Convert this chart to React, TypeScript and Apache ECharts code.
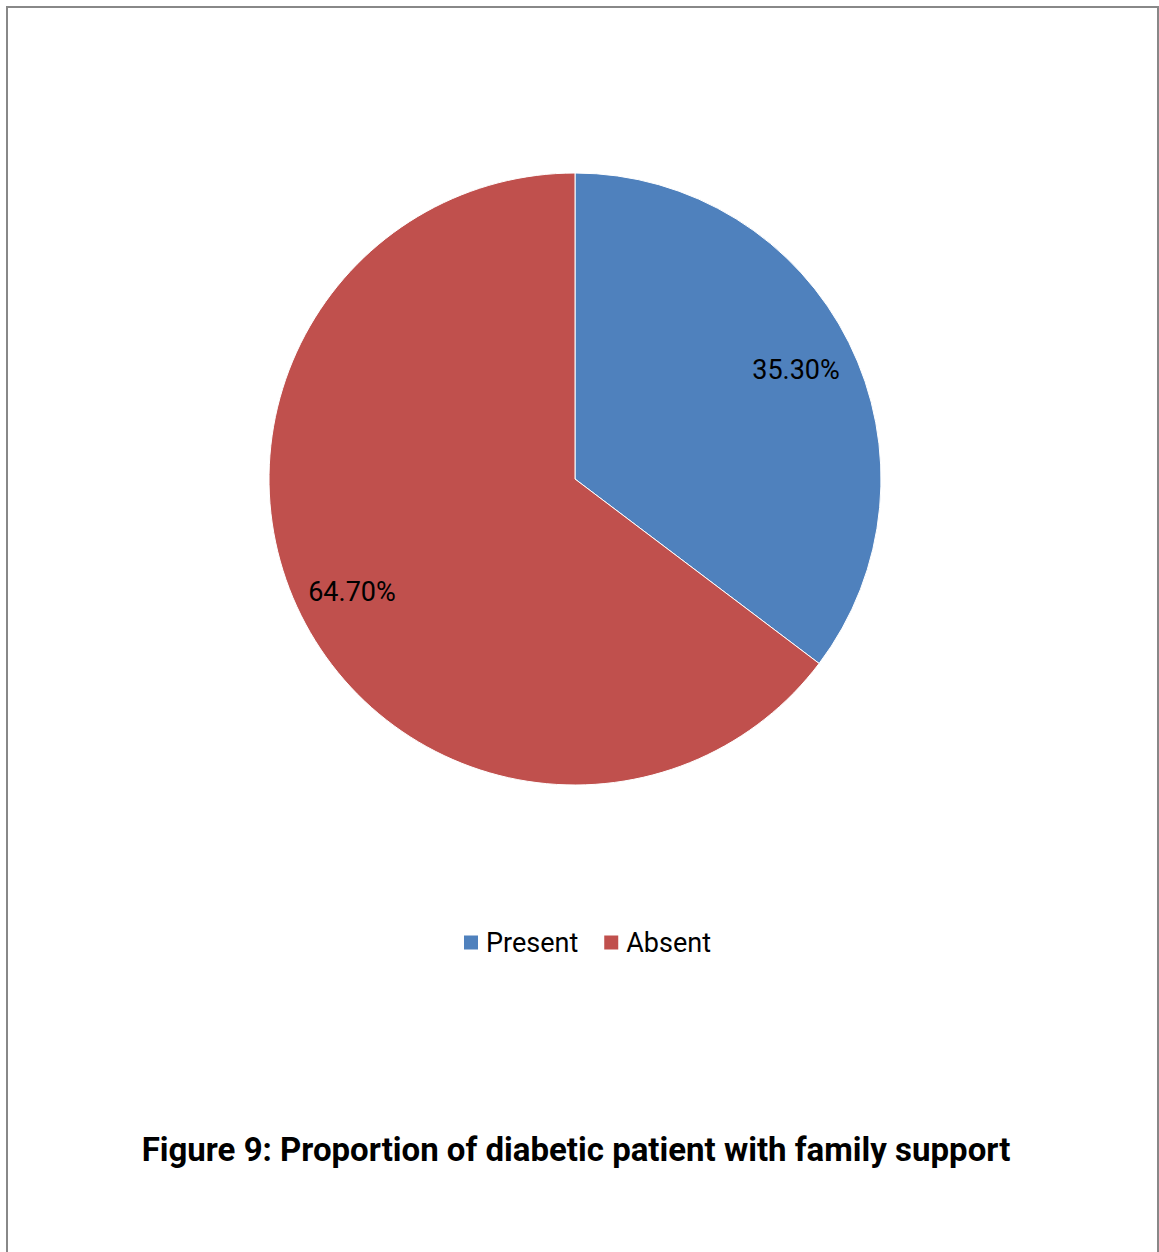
import React, { useEffect, useRef } from "react";
import * as echarts from "echarts";

const categories = ["Present", "Absent"];
const values = [35.3, 64.7];
const labels = ["35.30%", "64.70%"];
const colors = ["#4F81BD", "#C0504D"];
const titleText = "Figure 9: Proportion of diabetic patient with family support";

export default function App() {
  const ref = useRef<HTMLDivElement>(null);
  useEffect(() => {
    const chart = echarts.init(ref.current!, null, { renderer: "svg" });
    const data = categories.map((name, i) => ({
      name,
      value: values[i],
      itemStyle: { color: colors[i] },
    }));
    chart.setOption({
      animation: false,
      backgroundColor: "#ffffff",
      textStyle: { fontFamily: "Roboto" },
      graphic: [
        {
          type: "rect",
          shape: { x: 7, y: 7, width: 1151, height: 1270 },
          style: { fill: "none", stroke: "#888888", lineWidth: 2 },
          silent: true,
        },
        {
          type: "text",
          x: 576,
          y: 1149,
          style: {
            text: titleText,
            fill: "#000000",
            font: "bold 33px Roboto",
            textAlign: "center",
            textVerticalAlign: "middle",
          },
        },
      ],
      legend: {
        data: categories,
        left: 457,
        top: 924,
        itemWidth: 16,
        itemHeight: 16,
        itemGap: 24,
        icon: "rect",
        textStyle: {
          fontSize: 27,
          color: "#000",
          fontFamily: "Roboto",
          padding: [0, 0, 0, 2],
        },
      },
      series: [
        {
          type: "pie",
          center: [575, 479],
          radius: [0, 306],
          startAngle: 90,
          clockwise: true,
          silent: true,
          label: { show: false },
          labelLine: { show: false },
          itemStyle: { borderColor: "#ffffff", borderWidth: 1 },
          data,
        },
        {
          type: "pie",
          center: [574, 481],
          radius: [0, 490],
          startAngle: 90,
          clockwise: true,
          silent: true,
          legendHoverLink: false,
          itemStyle: { color: "rgba(0,0,0,0)", borderWidth: 0 },
          label: {
            show: true,
            position: "inside",
            fontSize: 27,
            color: "#000",
            fontFamily: "Roboto",
            formatter: (p: any) => labels[p.dataIndex],
          },
          labelLine: { show: false },
          data: categories.map((name, i) => ({
            name: name + " label",
            value: values[i],
          })),
        },
      ],
    });
    return () => chart.dispose();
  }, []);
  return (
    <div
      ref={ref}
      style={{ position: "absolute", left: 0, top: 0, width: 1159, height: 1252 }}
    />
  );
}
